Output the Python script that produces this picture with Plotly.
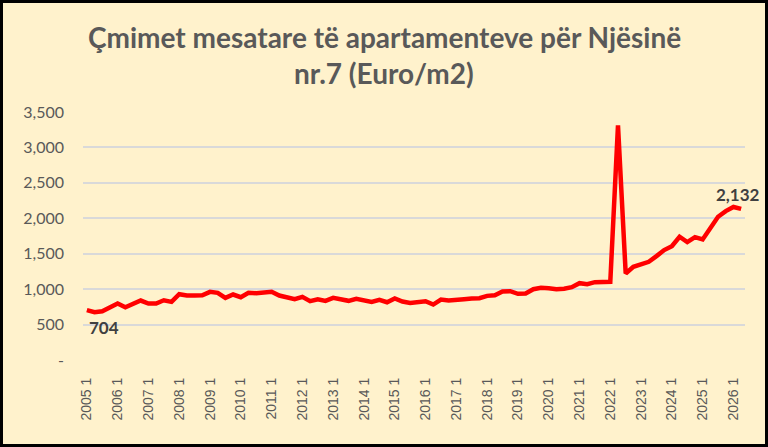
"""Average apartment price, Unit nr.7 (Euro/m2), quarterly line chart."""
import plotly.graph_objects as go

YEARS = list(range(2005, 2027))
QUARTERS = [1, 2, 3, 4]

# quarterly average prices, 2005 Q1 .. 2026 Q2
PRICES = [
    704, 674, 688, 736, 797, 745, 787, 839,          # 2005-2006
    797, 797, 843, 820, 928, 910, 910, 912,          # 2007-2008
    962, 948, 877, 924, 886, 948, 943, 952,          # 2009-2010
    962, 910, 886, 858, 891, 830, 858, 835,          # 2011-2012
    877, 858, 835, 863, 843, 820, 849, 815,          # 2013-2014
    868, 825, 806, 815, 830, 783, 853, 839,          # 2015-2016
    843, 858, 868, 872, 905, 914, 966, 971,          # 2017-2018
    934, 938, 999, 1019, 1013, 999, 1005, 1027,      # 2019-2020
    1084, 1069, 1098, 1103, 1103, 3312, 1221, 1315,  # 2021-2022
    1348, 1386, 1466, 1551, 1607, 1740, 1664, 1734,  # 2023-2024
    1701, 1866, 2022, 2101, 2160, 2132,              # 2025-2026
]

CATEGORIES = [f"{y} {q}" for y in YEARS for q in QUARTERS][:len(PRICES)]
TICK_LABELS = [f"{y} 1" for y in YEARS]
Y_TICKS = [0, 500, 1000, 1500, 2000, 2500, 3000, 3500]
Y_TICK_TEXT = ["-", "500", "1,000", "1,500", "2,000", "2,500", "3,000", "3,500"]

TITLE_LINES = ["Çmimet mesatare të apartamenteve për Njësinë", "nr.7 (Euro/m2)"]

BG = "#FFF2CC"
GREY = "#595959"
FONT = "Lato, Open Sans, sans-serif"

W, H = 768, 447
M = dict(l=83, r=23, t=112, b=87)
PW = W - M["l"] - M["r"]
PH = H - M["t"] - M["b"]

fig = go.Figure()
fig.add_trace(go.Scatter(
    x=CATEGORIES, y=PRICES,
    mode="lines",
    line=dict(color="#FF0000", width=4.5),
    hoverinfo="x+y",
))

# data labels for first and last points
fig.add_annotation(x=CATEGORIES[0], y=PRICES[0], text=f"{PRICES[0]:,}",
                   showarrow=False, yshift=-17, xshift=17,
                   font=dict(family=FONT, size=17, color="#404040", weight="bold"))
fig.add_annotation(x=CATEGORIES[-1], y=PRICES[-1], text=f"{PRICES[-1]:,}",
                   showarrow=False, yshift=14, xshift=-3,
                   font=dict(family=FONT, size=17, color="#404040", weight="bold"))

# two-line title
for i, line in enumerate(TITLE_LINES):
    fig.add_annotation(xref="paper", yref="paper",
                       x=(384 - M["l"]) / PW, y=1 + (M["t"] - 37 - 36 * i) / PH,
                       text=line, showarrow=False, xanchor="center", yanchor="middle",
                       font=dict(family=FONT, size=28, color=GREY, weight="bold"))

# outer black frame
fig.add_shape(type="rect", xref="paper", yref="paper",
              x0=-(M["l"] - 1.5) / PW, x1=1 + (M["r"] - 1.5) / PW,
              y0=-(M["b"] - 1.5) / PH, y1=1 + (M["t"] - 1.5) / PH,
              line=dict(color="black", width=3), layer="above")

fig.update_layout(
    width=W, height=H,
    margin=M,
    paper_bgcolor=BG, plot_bgcolor=BG,
    showlegend=False,
    font=dict(family=FONT, color=GREY),
)
fig.update_xaxes(
    type="category",
    range=[-0.5, len(CATEGORIES) - 0.5],
    tickmode="array", tickvals=TICK_LABELS, ticktext=TICK_LABELS,
    tickangle=-90, tickfont=dict(size=14, color=GREY, family="Liberation Sans"),
    ticklabelstandoff=14,
    showgrid=False, showline=False, zeroline=False, ticks="",
)
fig.update_yaxes(
    range=[0, 3500],
    tickmode="array", tickvals=Y_TICKS, ticktext=Y_TICK_TEXT,
    tickfont=dict(size=16, color=GREY, family=FONT),
    ticklabelstandoff=18,
    showgrid=True, gridcolor="#D9D9D9", gridwidth=2,
    zeroline=False, showline=False, ticks="",
)

fig.write_html("out.html", config={"displayModeBar": False},
               post_script="document.body.style.margin='0';")
